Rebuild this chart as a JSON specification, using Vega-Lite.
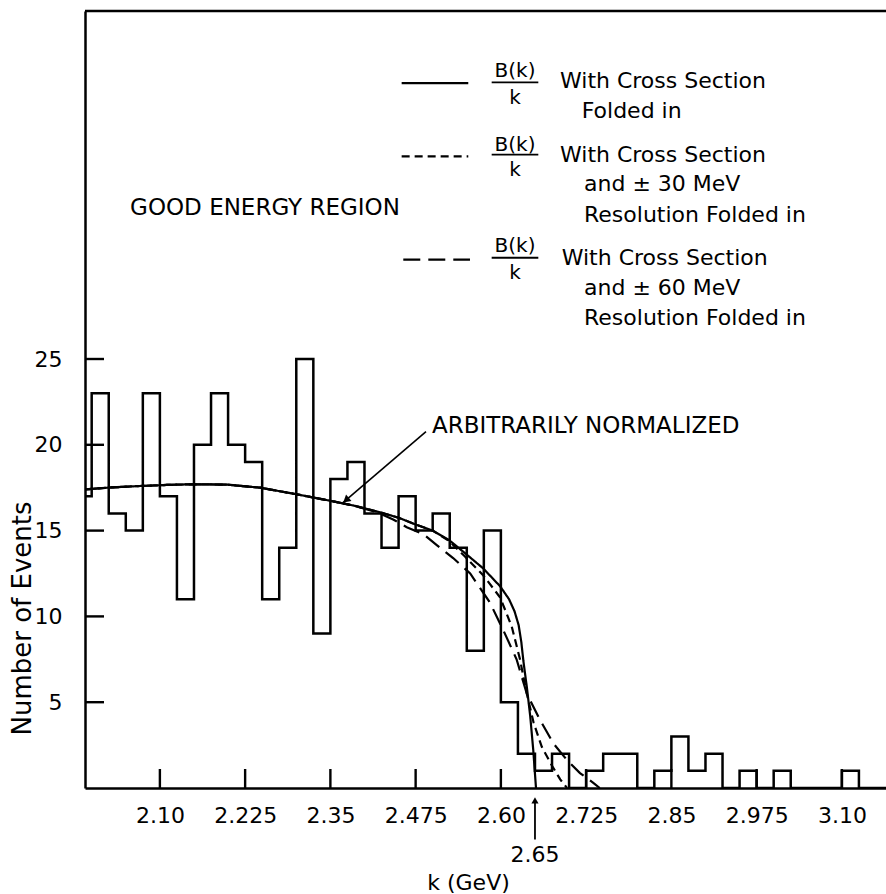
{
  "$schema": "https://vega.github.io/schema/vega-lite/v6.json",
  "width": 801,
  "height": 777,
  "autosize": {"type": "none"},
  "padding": {"left": 85, "top": 11, "right": 0, "bottom": 106},
  "background": "white",
  "config": {
    "view": {"stroke": null},
    "font": "DejaVu Sans",
    "axis": {"labelFont": "DejaVu Sans", "titleFont": "DejaVu Sans", "labelColor": "black", "titleColor": "black", "domainColor": "black", "tickColor": "black", "grid": false}
  },
  "datasets": {
    "hist": [
      {"k": 1.975, "events": 17}, {"k": 2.000, "events": 23}, {"k": 2.025, "events": 16}, {"k": 2.050, "events": 15},
      {"k": 2.075, "events": 23}, {"k": 2.100, "events": 17}, {"k": 2.125, "events": 11}, {"k": 2.150, "events": 20},
      {"k": 2.175, "events": 23}, {"k": 2.200, "events": 20}, {"k": 2.225, "events": 19}, {"k": 2.250, "events": 11},
      {"k": 2.275, "events": 14}, {"k": 2.300, "events": 25}, {"k": 2.325, "events": 9}, {"k": 2.350, "events": 18},
      {"k": 2.375, "events": 19}, {"k": 2.400, "events": 16}, {"k": 2.425, "events": 14}, {"k": 2.450, "events": 17},
      {"k": 2.475, "events": 15}, {"k": 2.500, "events": 16}, {"k": 2.525, "events": 14}, {"k": 2.550, "events": 8},
      {"k": 2.575, "events": 15}, {"k": 2.600, "events": 5}, {"k": 2.625, "events": 2}, {"k": 2.650, "events": 1},
      {"k": 2.675, "events": 2}, {"k": 2.700, "events": 0}, {"k": 2.725, "events": 1}, {"k": 2.750, "events": 2},
      {"k": 2.775, "events": 2}, {"k": 2.800, "events": 0}, {"k": 2.825, "events": 1}, {"k": 2.850, "events": 3},
      {"k": 2.875, "events": 1}, {"k": 2.900, "events": 2}, {"k": 2.925, "events": 0}, {"k": 2.950, "events": 1},
      {"k": 2.975, "events": 0}, {"k": 3.000, "events": 1}, {"k": 3.025, "events": 0}, {"k": 3.050, "events": 0},
      {"k": 3.075, "events": 0}, {"k": 3.100, "events": 1}, {"k": 3.125, "events": 0}, {"k": 3.150, "events": 0},
      {"k": 3.175, "events": 0}
    ],
    "tickLines": [
      {"tick": "x2.10", "k": 2.10, "events": 0}, {"tick": "x2.10", "k": 2.10, "events": 1.107},
      {"tick": "x2.225", "k": 2.225, "events": 0}, {"tick": "x2.225", "k": 2.225, "events": 1.107},
      {"tick": "x2.35", "k": 2.35, "events": 0}, {"tick": "x2.35", "k": 2.35, "events": 1.107},
      {"tick": "x2.475", "k": 2.475, "events": 0}, {"tick": "x2.475", "k": 2.475, "events": 1.107},
      {"tick": "x2.60", "k": 2.60, "events": 0}, {"tick": "x2.60", "k": 2.60, "events": 1.107},
      {"tick": "x2.725", "k": 2.725, "events": 0}, {"tick": "x2.725", "k": 2.725, "events": 1.107},
      {"tick": "x2.85", "k": 2.85, "events": 0}, {"tick": "x2.85", "k": 2.85, "events": 1.107},
      {"tick": "x2.975", "k": 2.975, "events": 0}, {"tick": "x2.975", "k": 2.975, "events": 1.107},
      {"tick": "x3.10", "k": 3.10, "events": 0}, {"tick": "x3.10", "k": 3.10, "events": 1.107},
      {"tick": "y5", "k": 1.9902, "events": 5}, {"tick": "y5", "k": 2.0181, "events": 5},
      {"tick": "y10", "k": 1.9902, "events": 10}, {"tick": "y10", "k": 2.0181, "events": 10},
      {"tick": "y15", "k": 1.9902, "events": 15}, {"tick": "y15", "k": 2.0181, "events": 15},
      {"tick": "y20", "k": 1.9902, "events": 20}, {"tick": "y20", "k": 2.0181, "events": 20},
      {"tick": "y25", "k": 1.9902, "events": 25}, {"tick": "y25", "k": 2.0181, "events": 25}
    ],
    "curves": [
      {"series": "cross section", "k": 1.990, "events": 17.40},
      {"series": "cross section", "k": 2.030, "events": 17.52},
      {"series": "cross section", "k": 2.071, "events": 17.60},
      {"series": "cross section", "k": 2.110, "events": 17.66},
      {"series": "cross section", "k": 2.147, "events": 17.70},
      {"series": "cross section", "k": 2.198, "events": 17.68},
      {"series": "cross section", "k": 2.247, "events": 17.50},
      {"series": "cross section", "k": 2.296, "events": 17.15},
      {"series": "cross section", "k": 2.347, "events": 16.76},
      {"series": "cross section", "k": 2.385, "events": 16.45},
      {"series": "cross section", "k": 2.420, "events": 16.10},
      {"series": "cross section", "k": 2.450, "events": 15.75},
      {"series": "cross section", "k": 2.472, "events": 15.40},
      {"series": "cross section", "k": 2.500, "events": 15.00},
      {"series": "cross section", "k": 2.524, "events": 14.45},
      {"series": "cross section", "k": 2.550, "events": 13.60},
      {"series": "cross section", "k": 2.574, "events": 12.80},
      {"series": "cross section", "k": 2.599, "events": 11.75},
      {"series": "cross section", "k": 2.612, "events": 11.00},
      {"series": "cross section", "k": 2.620, "events": 10.30},
      {"series": "cross section", "k": 2.626, "events": 9.50},
      {"series": "cross section", "k": 2.630, "events": 8.50},
      {"series": "cross section", "k": 2.633, "events": 7.40},
      {"series": "cross section", "k": 2.638, "events": 5.90},
      {"series": "cross section", "k": 2.643, "events": 4.20},
      {"series": "cross section", "k": 2.6475, "events": 2.20},
      {"series": "cross section", "k": 2.6515, "events": 0},

      {"series": "±30 MeV", "k": 1.990, "events": 17.40},
      {"series": "±30 MeV", "k": 2.030, "events": 17.52},
      {"series": "±30 MeV", "k": 2.071, "events": 17.60},
      {"series": "±30 MeV", "k": 2.110, "events": 17.66},
      {"series": "±30 MeV", "k": 2.147, "events": 17.70},
      {"series": "±30 MeV", "k": 2.198, "events": 17.68},
      {"series": "±30 MeV", "k": 2.247, "events": 17.50},
      {"series": "±30 MeV", "k": 2.296, "events": 17.15},
      {"series": "±30 MeV", "k": 2.347, "events": 16.76},
      {"series": "±30 MeV", "k": 2.385, "events": 16.45},
      {"series": "±30 MeV", "k": 2.420, "events": 16.10},
      {"series": "±30 MeV", "k": 2.450, "events": 15.75},
      {"series": "±30 MeV", "k": 2.472, "events": 15.40},
      {"series": "±30 MeV", "k": 2.500, "events": 15.00},
      {"series": "±30 MeV", "k": 2.524, "events": 14.40},
      {"series": "±30 MeV", "k": 2.547, "events": 13.50},
      {"series": "±30 MeV", "k": 2.574, "events": 12.40},
      {"series": "±30 MeV", "k": 2.599, "events": 11.10},
      {"series": "±30 MeV", "k": 2.616, "events": 9.40},
      {"series": "±30 MeV", "k": 2.628, "events": 7.50},
      {"series": "±30 MeV", "k": 2.638, "events": 5.50},
      {"series": "±30 MeV", "k": 2.648, "events": 3.80},
      {"series": "±30 MeV", "k": 2.660, "events": 2.40},
      {"series": "±30 MeV", "k": 2.675, "events": 1.30},
      {"series": "±30 MeV", "k": 2.687, "events": 0.50},
      {"series": "±30 MeV", "k": 2.697, "events": 0},

      {"series": "±60 MeV", "k": 1.990, "events": 17.40},
      {"series": "±60 MeV", "k": 2.030, "events": 17.52},
      {"series": "±60 MeV", "k": 2.071, "events": 17.60},
      {"series": "±60 MeV", "k": 2.110, "events": 17.66},
      {"series": "±60 MeV", "k": 2.147, "events": 17.70},
      {"series": "±60 MeV", "k": 2.198, "events": 17.68},
      {"series": "±60 MeV", "k": 2.247, "events": 17.50},
      {"series": "±60 MeV", "k": 2.296, "events": 17.15},
      {"series": "±60 MeV", "k": 2.347, "events": 16.76},
      {"series": "±60 MeV", "k": 2.385, "events": 16.45},
      {"series": "±60 MeV", "k": 2.420, "events": 16.05},
      {"series": "±60 MeV", "k": 2.442, "events": 15.65},
      {"series": "±60 MeV", "k": 2.462, "events": 15.20},
      {"series": "±60 MeV", "k": 2.486, "events": 14.80},
      {"series": "±60 MeV", "k": 2.506, "events": 14.15},
      {"series": "±60 MeV", "k": 2.530, "events": 13.40},
      {"series": "±60 MeV", "k": 2.555, "events": 12.50},
      {"series": "±60 MeV", "k": 2.584, "events": 10.80},
      {"series": "±60 MeV", "k": 2.6035, "events": 9.20},
      {"series": "±60 MeV", "k": 2.623, "events": 7.50},
      {"series": "±60 MeV", "k": 2.638, "events": 5.50},
      {"series": "±60 MeV", "k": 2.657, "events": 4.00},
      {"series": "±60 MeV", "k": 2.677, "events": 2.60},
      {"series": "±60 MeV", "k": 2.6965, "events": 1.65},
      {"series": "±60 MeV", "k": 2.716, "events": 0.87},
      {"series": "±60 MeV", "k": 2.7355, "events": 0.30},
      {"series": "±60 MeV", "k": 2.745, "events": 0}
    ],
    "legendLines": [
      {"series": "cross section", "k": 2.4545, "k2": 2.5522, "events": 41.08},
      {"series": "±30 MeV", "k": 2.4545, "k2": 2.5522, "events": 36.81},
      {"series": "±60 MeV", "k": 2.4569, "k2": 2.5547, "events": 30.79}
    ],
    "fractionBars": [
      {"k": 2.5865, "k2": 2.6549, "events": 41.12},
      {"k": 2.5865, "k2": 2.6549, "events": 36.91},
      {"k": 2.5865, "k2": 2.6549, "events": 30.90}
    ],
    "fractionText": [
      {"k": 2.6207, "events": 41.76, "label": "B(k)"},
      {"k": 2.6207, "events": 40.21, "label": "k"},
      {"k": 2.6207, "events": 37.49, "label": "B(k)"},
      {"k": 2.6207, "events": 36.03, "label": "k"},
      {"k": 2.6207, "events": 31.56, "label": "B(k)"},
      {"k": 2.6207, "events": 30.03, "label": "k"}
    ],
    "legendText": [
      {"k": 2.6867, "events": 41.18, "label": "With Cross Section"},
      {"k": 2.7185, "events": 39.43, "label": "Folded in"},
      {"k": 2.6867, "events": 36.91, "label": "With Cross Section"},
      {"k": 2.7219, "events": 35.17, "label": "and ± 30 MeV"},
      {"k": 2.7219, "events": 33.42, "label": "Resolution Folded in"},
      {"k": 2.6892, "events": 30.89, "label": "With Cross Section"},
      {"k": 2.7219, "events": 29.14, "label": "and ± 60 MeV"},
      {"k": 2.7219, "events": 27.39, "label": "Resolution Folded in"}
    ],
    "bigText": [
      {"k": 2.0563, "events": 33.82, "label": "GOOD ENERGY REGION"},
      {"k": 2.499, "events": 21.07, "label": "ARBITRARILY NORMALIZED"}
    ],
    "leader": [
      {"k": 2.4902, "events": 20.77, "k2": 2.3685, "events2": 16.63}
    ],
    "leaderHead": [
      {"k": 2.3729, "events": 16.78}
    ],
    "thresholdArrow": [
      {"k": 2.65, "events": -0.75, "events2": -3.0}
    ],
    "thresholdHead": [
      {"k": 2.65, "events": -0.72}
    ],
    "thresholdLabel": [
      {"k": 2.65, "events": -3.88, "label": "2.65"}
    ]
  },
  "layer": [
    {
      "data": {"name": "hist"},
      "mark": {"type": "line", "interpolate": "step-after", "clip": true, "color": "black", "strokeWidth": 2.5},
      "encoding": {
        "x": {
          "field": "k", "type": "quantitative",
          "scale": {"domain": [1.9902, 3.1647], "nice": false, "zero": false},
          "axis": {
            "orient": "bottom",
            "values": [2.10, 2.225, 2.35, 2.475, 2.60, 2.725, 2.85, 2.975, 3.10],
            "labelExpr": "format(datum.value, round(datum.value*1000) % 10 == 0 ? '.2f' : '.3f')",
            "ticks": false, "domainWidth": 2.5,
            "labelPadding": 17, "labelFontSize": 22, "labelOverlap": false, "labelFlush": false, "labelBound": false,
            "title": "k (GeV)", "titleFontSize": 22, "titleFontWeight": "normal",
            "titleX": 383, "titleY": 94, "titleAlign": "center", "titleBaseline": "middle"
          }
        },
        "y": {
          "field": "events", "type": "quantitative",
          "scale": {"domain": [0, 45.28], "nice": false},
          "axis": {
            "orient": "left",
            "values": [5, 10, 15, 20, 25],
            "ticks": false, "domainWidth": 2.5,
            "labelPadding": 23, "labelFontSize": 22, "labelOverlap": false, "labelFlush": false,
            "title": "Number of Events", "titleFontSize": 26, "titleFontWeight": "normal",
            "titleX": -63, "titleY": 607, "titleAlign": "center", "titleBaseline": "middle", "titleAngle": -90
          }
        }
      }
    },
    {
      "data": {"values": [{}]},
      "mark": {"type": "rule", "color": "black", "strokeWidth": 2.5},
      "encoding": {"y": {"datum": 45.28, "type": "quantitative"}}
    },
    {
      "data": {"name": "curves"},
      "mark": {"type": "line", "color": "black", "strokeWidth": 2.2, "clip": true},
      "encoding": {
        "x": {"field": "k", "type": "quantitative"},
        "y": {"field": "events", "type": "quantitative"},
        "detail": {"field": "series"},
        "strokeDash": {
          "field": "series", "type": "nominal",
          "scale": {"domain": ["cross section", "±30 MeV", "±60 MeV"], "range": [[1, 0], [8, 5], [17, 8]]},
          "legend": null
        }
      }
    },
    {
      "data": {"name": "legendLines"},
      "mark": {"type": "rule", "color": "black", "strokeWidth": 2.2},
      "encoding": {
        "x": {"field": "k", "type": "quantitative"},
        "x2": {"field": "k2"},
        "y": {"field": "events", "type": "quantitative"},
        "strokeDash": {"field": "series", "type": "nominal", "legend": null}
      }
    },
    {
      "data": {"name": "fractionBars"},
      "mark": {"type": "rule", "color": "black", "strokeWidth": 1.8},
      "encoding": {
        "x": {"field": "k", "type": "quantitative"},
        "x2": {"field": "k2"},
        "y": {"field": "events", "type": "quantitative"}
      }
    },
    {
      "data": {"name": "fractionText"},
      "mark": {"type": "text", "align": "center", "baseline": "middle", "fontSize": 20, "font": "DejaVu Sans", "color": "black"},
      "encoding": {
        "x": {"field": "k", "type": "quantitative"},
        "y": {"field": "events", "type": "quantitative"},
        "text": {"field": "label"}
      }
    },
    {
      "data": {"name": "legendText"},
      "mark": {"type": "text", "align": "left", "baseline": "middle", "fontSize": 22, "font": "DejaVu Sans", "color": "black"},
      "encoding": {
        "x": {"field": "k", "type": "quantitative"},
        "y": {"field": "events", "type": "quantitative"},
        "text": {"field": "label"}
      }
    },
    {
      "data": {"name": "bigText"},
      "mark": {"type": "text", "align": "left", "baseline": "middle", "fontSize": 23, "font": "DejaVu Sans", "color": "black"},
      "encoding": {
        "x": {"field": "k", "type": "quantitative"},
        "y": {"field": "events", "type": "quantitative"},
        "text": {"field": "label"}
      }
    },
    {
      "data": {"name": "leader"},
      "mark": {"type": "rule", "color": "black", "strokeWidth": 1.6},
      "encoding": {
        "x": {"field": "k", "type": "quantitative"},
        "y": {"field": "events", "type": "quantitative"},
        "x2": {"field": "k2"},
        "y2": {"field": "events2"}
      }
    },
    {
      "data": {"name": "leaderHead"},
      "mark": {"type": "point", "shape": "triangle-up", "filled": true, "color": "black", "size": 70, "angle": 229.5, "opacity": 1},
      "encoding": {
        "x": {"field": "k", "type": "quantitative"},
        "y": {"field": "events", "type": "quantitative"}
      }
    },
    {
      "data": {"name": "thresholdArrow"},
      "mark": {"type": "rule", "color": "black", "strokeWidth": 1.8},
      "encoding": {
        "x": {"field": "k", "type": "quantitative"},
        "y": {"field": "events", "type": "quantitative"},
        "y2": {"field": "events2"}
      }
    },
    {
      "data": {"name": "thresholdHead"},
      "mark": {"type": "point", "shape": "triangle-up", "filled": true, "color": "black", "size": 50, "opacity": 1},
      "encoding": {
        "x": {"field": "k", "type": "quantitative"},
        "y": {"field": "events", "type": "quantitative"}
      }
    },
    {
      "data": {"name": "thresholdLabel"},
      "mark": {"type": "text", "align": "center", "baseline": "middle", "fontSize": 22, "font": "DejaVu Sans", "color": "black"},
      "encoding": {
        "x": {"field": "k", "type": "quantitative"},
        "y": {"field": "events", "type": "quantitative"},
        "text": {"field": "label"}
      }
    },
    {
      "data": {"name": "tickLines"},
      "mark": {"type": "line", "color": "black", "strokeWidth": 2.4, "strokeCap": "butt"},
      "encoding": {
        "x": {"field": "k", "type": "quantitative"},
        "y": {"field": "events", "type": "quantitative"},
        "detail": {"field": "tick"}
      }
    }
  ]
}
